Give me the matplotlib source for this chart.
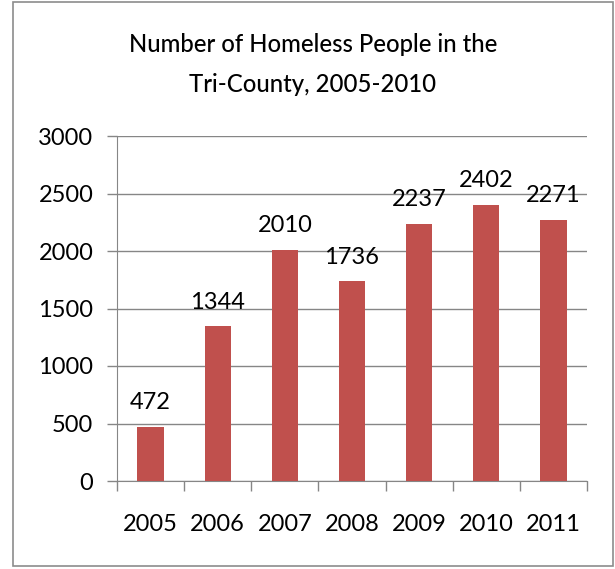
"""Homeless count bar chart (Excel style)"""
import matplotlib
matplotlib.use("Agg")
import matplotlib.pyplot as plt
from matplotlib.patches import Rectangle

years = ["2005", "2006", "2007", "2008", "2009", "2010", "2011"]
counts = [472, 1344, 2010, 1736, 2237, 2402, 2271]
yticks = [0, 500, 1000, 1500, 2000, 2500, 3000]

plt.rcParams["font.family"] = ["Lato", "DejaVu Sans"]

W, H = 615, 569
fig = plt.figure(figsize=(W / 100, H / 100), dpi=100)

# outer chart border
fig.patches.append(Rectangle((13 / W, 1 - 566 / H), 600 / W, 564 / H,
                             transform=fig.transFigure, fill=False,
                             edgecolor="#8c8c8c", linewidth=1.2))

ax = fig.add_axes([117 / W, 1 - 481 / H, (587 - 117) / W, (481 - 136) / H])
x = range(len(years))
ax.bar(x, counts, width=0.39, color="#C0504D", zorder=3)
ax.set_xlim(-0.5, len(years) - 0.5)
ax.set_ylim(0, 3000)
ax.set_yticks(yticks)
ax.set_yticklabels([str(v) for v in yticks], fontsize=17)
ax.set_xticks([i - 0.5 for i in range(len(years) + 1)], minor=False)
ax.set_xticklabels([])
ax.set_xticks(list(x), minor=True)
ax.set_xticklabels(years, minor=True, fontsize=17)
ax.tick_params(axis="x", which="major", length=7, color="#868686", width=1)
ax.tick_params(axis="x", which="minor", length=0, pad=24)
ax.tick_params(axis="y", length=7, color="#868686", width=1, pad=10)
ax.grid(axis="y", color="#868686", linewidth=1, zorder=0)
for s in ["top", "right"]:
    ax.spines[s].set_visible(False)
for s in ["left", "bottom"]:
    ax.spines[s].set_color("#868686")

for i, v in enumerate(counts):
    ax.text(i, v + 120, str(v), ha="center", va="bottom", fontsize=17, zorder=4)

fig.text(313 / W, 1 - 45 / H, "Number of Homeless People in the",
         ha="center", va="center", fontsize=17.2, fontweight="medium")
fig.text(313 / W, 1 - 85 / H, "Tri-County, 2005-2010",
         ha="center", va="center", fontsize=17.2, fontweight="medium")

fig.savefig("out.png", dpi=100)
